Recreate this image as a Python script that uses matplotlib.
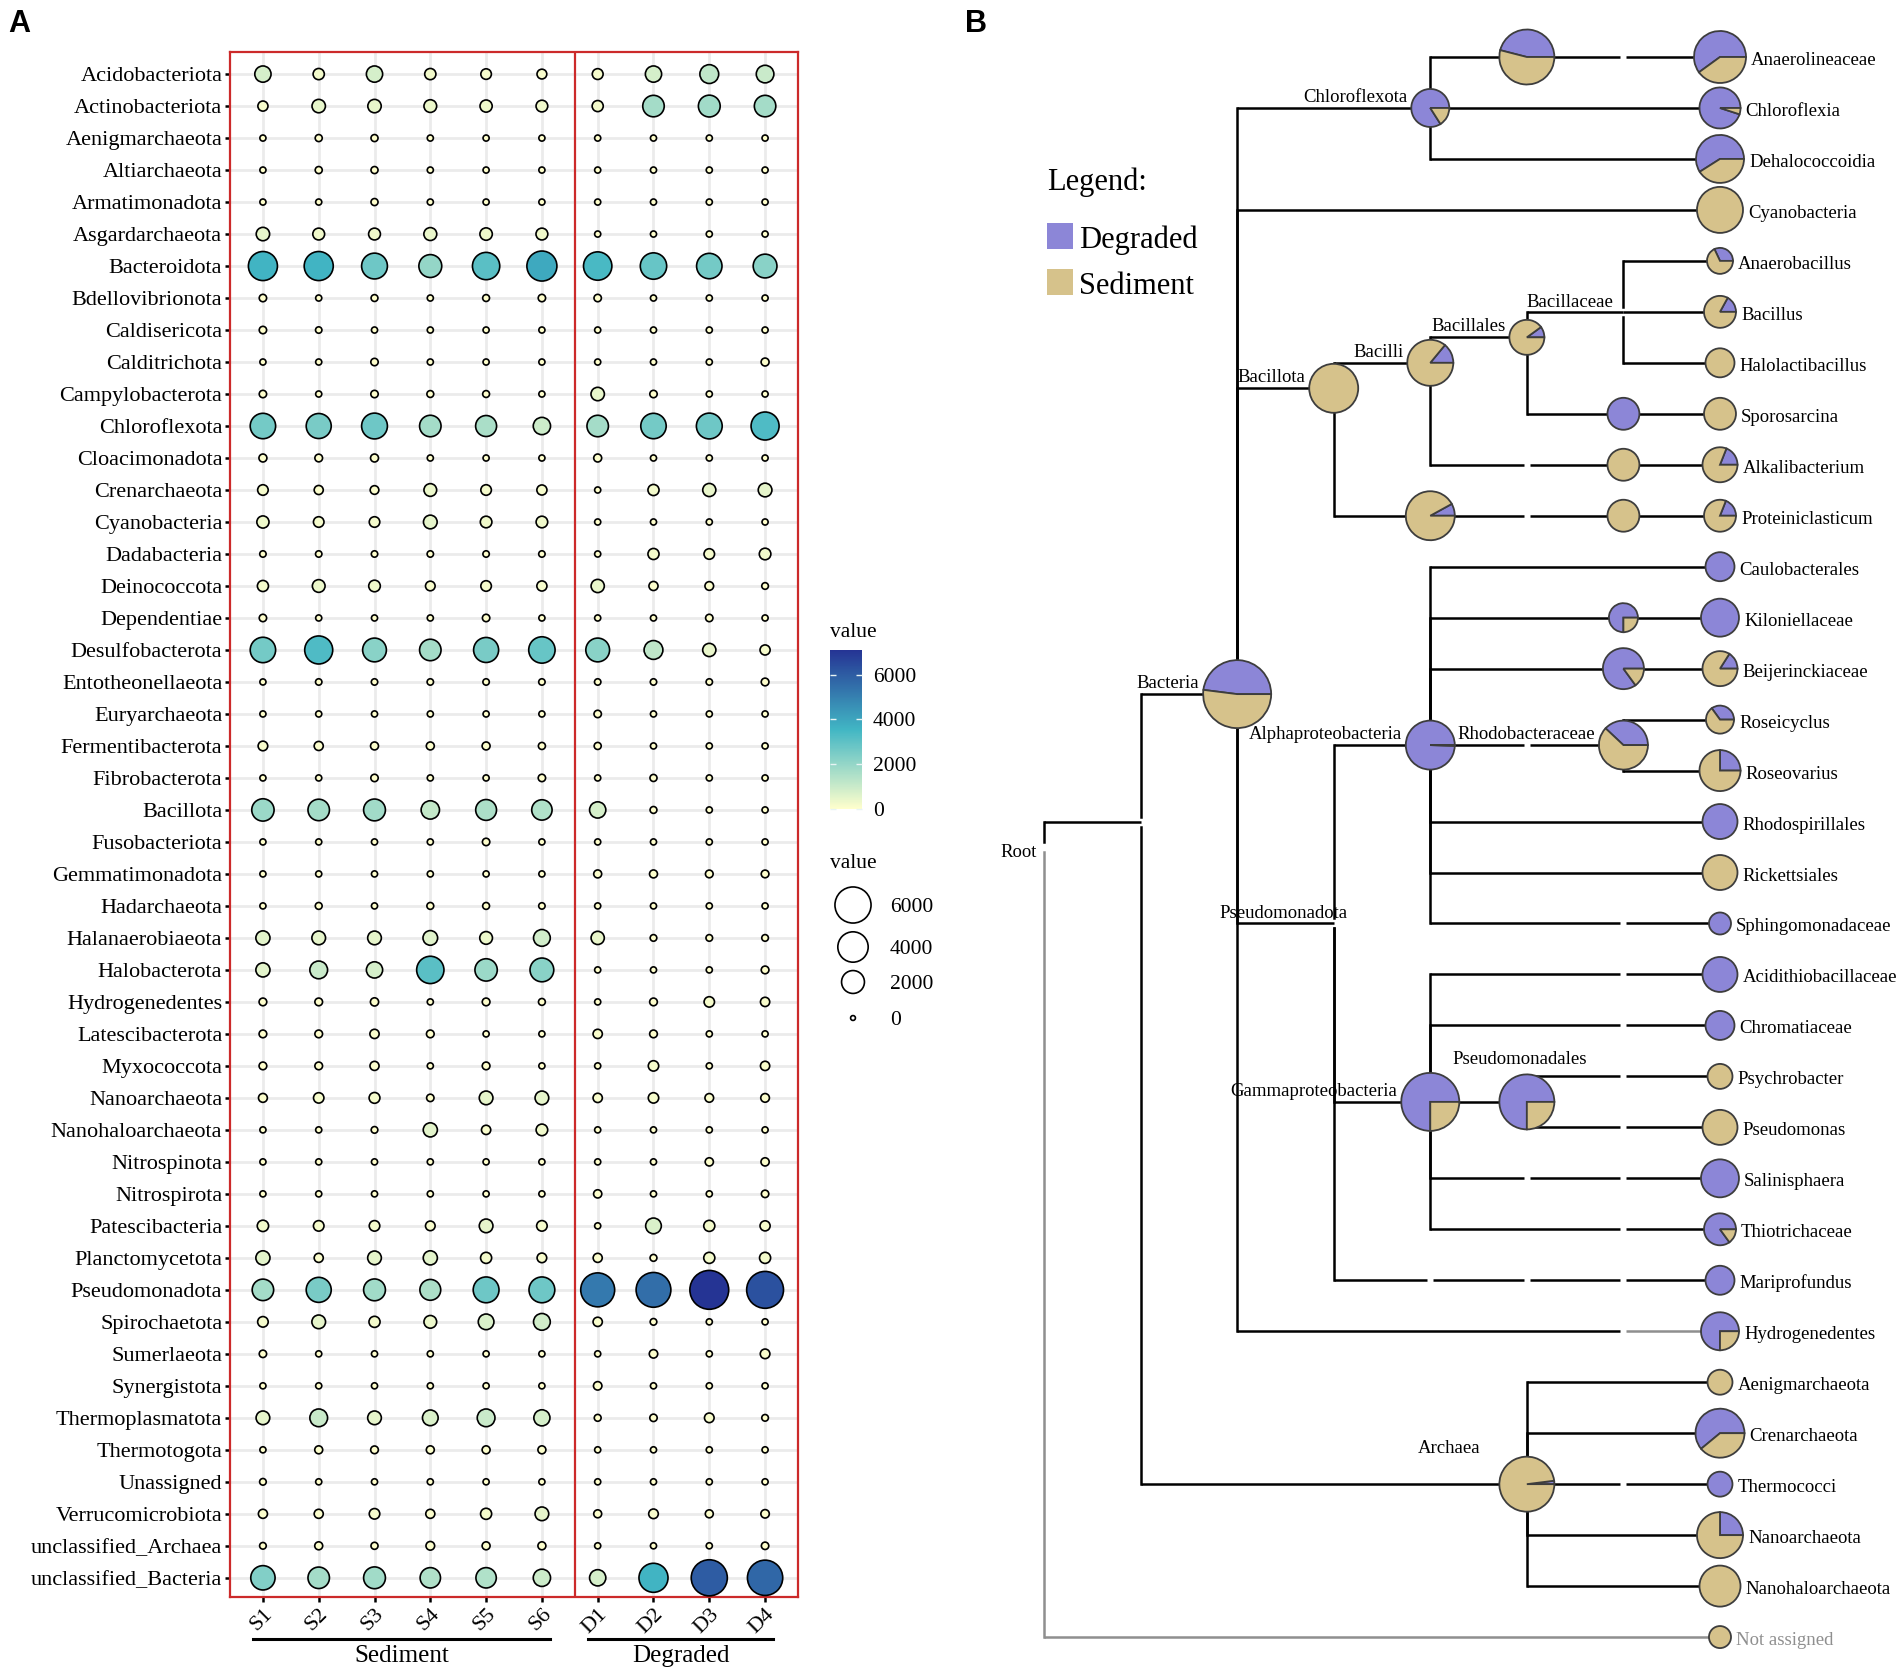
import numpy as np
import matplotlib.pyplot as plt
from matplotlib.colors import LinearSegmentedColormap, Normalize
from matplotlib.cm import ScalarMappable
from matplotlib.patches import Wedge, Circle, Rectangle
from matplotlib.transforms import Affine2D, ScaledTranslation, blended_transform_factory

plt.rcParams['font.family'] = ['Liberation Serif', 'DejaVu Serif']

W, H = 1902, 1672
PX = 0.72  # points per pixel at dpi 100

# ---------------- panel A data ----------------
phyla = ['Acidobacteriota', 'Actinobacteriota', 'Aenigmarchaeota', 'Altiarchaeota',
         'Armatimonadota', 'Asgardarchaeota', 'Bacteroidota', 'Bdellovibrionota',
         'Caldisericota', 'Calditrichota', 'Campylobacterota', 'Chloroflexota',
         'Cloacimonadota', 'Crenarchaeota', 'Cyanobacteria', 'Dadabacteria',
         'Deinococcota', 'Dependentiae', 'Desulfobacterota', 'Entotheonellaeota',
         'Euryarchaeota', 'Fermentibacterota', 'Fibrobacterota', 'Bacillota',
         'Fusobacteriota', 'Gemmatimonadota', 'Hadarchaeota', 'Halanaerobiaeota',
         'Halobacterota', 'Hydrogenedentes', 'Latescibacterota', 'Myxococcota',
         'Nanoarchaeota', 'Nanohaloarchaeota', 'Nitrospinota', 'Nitrospirota',
         'Patescibacteria', 'Planctomycetota', 'Pseudomonadota', 'Spirochaetota',
         'Sumerlaeota', 'Synergistota', 'Thermoplasmatota', 'Thermotogota',
         'Unassigned', 'Verrucomicrobiota', 'unclassified_Archaea', 'unclassified_Bacteria']
samples = ['S1', 'S2', 'S3', 'S4', 'S5', 'S6', 'D1', 'D2', 'D3', 'D4']

S1 = [800, 170, 10, 10, 10, 450, 3600, 40, 40, 10, 40, 2600, 60, 200, 330, 15, 240, 40, 2600, 10,
      10, 140, 10, 1880, 10, 10, 10, 530, 530, 50, 50, 50, 100, 10, 10, 10, 260, 530, 1700, 200,
      40, 10, 480, 10, 20, 110, 20, 2330]
S2 = [250, 450, 30, 30, 10, 300, 3600, 10, 15, 10, 10, 2500, 50, 110, 200, 15, 380, 10, 3300, 15,
      10, 110, 10, 1700, 10, 10, 25, 480, 1020, 50, 50, 50, 190, 10, 10, 10, 200, 110, 2500, 480,
      10, 10, 1020, 60, 10, 110, 60, 1700]
S3 = [800, 450, 30, 30, 30, 300, 2700, 25, 10, 40, 40, 2700, 60, 90, 200, 15, 280, 10, 2200, 15,
      10, 60, 40, 1770, 10, 10, 10, 480, 800, 70, 120, 110, 220, 20, 10, 10, 200, 480, 1770, 240,
      10, 10, 480, 50, 10, 200, 30, 1770]
S4 = [250, 380, 10, 10, 10, 400, 2000, 10, 10, 10, 25, 1700, 10, 380, 480, 15, 140, 10, 1700, 15,
      10, 60, 10, 1120, 10, 10, 25, 590, 3100, 10, 50, 10, 40, 530, 10, 10, 140, 530, 1570, 380,
      10, 10, 720, 60, 10, 110, 90, 1480]
S5 = [200, 330, 10, 10, 10, 350, 3100, 25, 10, 10, 25, 1600, 10, 200, 280, 15, 200, 40, 2500, 15,
      10, 60, 10, 1570, 40, 10, 25, 380, 1880, 50, 10, 50, 480, 120, 10, 10, 480, 240, 2700, 720,
      10, 10, 1020, 60, 10, 240, 60, 1480]
S6 = [150, 290, 10, 10, 10, 300, 3900, 40, 10, 10, 10, 950, 10, 170, 280, 15, 170, 10, 2850, 15,
      10, 30, 40, 1480, 10, 10, 15, 870, 2200, 25, 10, 10, 480, 280, 10, 10, 200, 140, 2700, 870,
      10, 10, 780, 60, 10, 480, 60, 950]
D1 = [220, 240, 10, 10, 10, 10, 3400, 40, 10, 10, 450, 1700, 60, 10, 10, 10, 430, 10, 2200, 15,
      40, 30, 10, 800, 10, 60, 10, 430, 10, 10, 120, 10, 120, 10, 10, 70, 10, 110, 5200, 120,
      10, 80, 25, 10, 10, 60, 10, 800]
D2 = [800, 1700, 10, 10, 10, 10, 2850, 10, 10, 10, 40, 2600, 10, 240, 10, 240, 110, 10, 1200, 15,
      10, 10, 30, 25, 10, 60, 10, 20, 10, 50, 50, 190, 190, 10, 10, 10, 720, 25, 5500, 20,
      80, 10, 40, 10, 10, 140, 10, 3600]
D3 = [1200, 1770, 10, 10, 10, 10, 2600, 10, 10, 10, 10, 2700, 10, 420, 10, 200, 90, 40, 430, 15,
      10, 10, 10, 10, 10, 50, 10, 20, 10, 190, 10, 10, 90, 10, 70, 10, 240, 240, 7100, 10,
      10, 10, 140, 10, 10, 60, 10, 6000]
D4 = [1000, 1700, 10, 10, 10, 10, 2200, 10, 10, 60, 10, 3300, 10, 480, 10, 280, 20, 10, 170, 50,
      10, 10, 10, 10, 10, 50, 10, 20, 50, 120, 10, 120, 90, 10, 70, 40, 170, 240, 6300, 10,
      140, 10, 20, 10, 10, 80, 40, 5700]

group_names = ['Sediment', 'Degraded']
group_members = [samples[:6], samples[6:]]

# ---------------- panel B data (MEGAN style tree) ----------------
tree_names = ['Root', '', 'Bacteria', 'Chloroflexota', '', 'Anaerolineaceae', 'Chloroflexia',
              'Dehalococcoidia', 'Cyanobacteria', 'Bacillota', 'Bacilli', 'Bacillales',
              'Bacillaceae', 'Anaerobacillus', 'Bacillus', 'Halolactibacillus', '', 'Sporosarcina',
              '', 'Alkalibacterium', '', '', 'Proteiniclasticum', 'Pseudomonadota',
              'Alphaproteobacteria', 'Caulobacterales', '', 'Kiloniellaceae', '', 'Beijerinckiaceae',
              'Rhodobacteraceae', 'Roseicyclus', 'Roseovarius', 'Rhodospirillales', 'Rickettsiales',
              'Sphingomonadaceae', 'Gammaproteobacteria', 'Acidithiobacillaceae', 'Chromatiaceae',
              'Pseudomonadales', 'Psychrobacter', 'Pseudomonas', 'Salinisphaera', 'Thiotrichaceae',
              'Mariprofundus', 'Hydrogenedentes', 'Archaea', 'Aenigmarchaeota', 'Crenarchaeota',
              'Thermococci', 'Nanoarchaeota', 'Nanohaloarchaeota', 'Not assigned']
tree_parent = [-1, 0, 1, 2, 3, 4, 3, 3, 2, 2, 9, 10, 11, 12, 12, 12, 11, 16, 10, 18, 9, 20, 21,
               2, 23, 24, 24, 26, 24, 28, 24, 30, 30, 24, 24, 24, 23, 36, 36, 36, 39, 39, 36, 36,
               23, 2, 1, 46, 46, 46, 46, 46, 0]
tree_depth = [0, 1, 2, 4, 5, 7, 7, 7, 7, 3, 4, 5, 6, 7, 7, 7, 6, 7, 6, 7, 4, 6, 7,
              3, 4, 7, 6, 7, 6, 7, 6, 7, 7, 7, 7, 7, 4, 7, 7, 5, 7, 7, 7, 7,
              7, 7, 5, 7, 7, 7, 7, 7, 7]
tree_reads = [0, 0, 10000, 3120, 6540, 5850, 3640, 4980, 4580, 5190, 4580, 2650, 0, 1460, 2210,
              1820, 2210, 2210, 2210, 2650, 5190, 2210, 2210, 0, 5190, 1820, 1820, 3120, 3640, 2650,
              5190, 1700, 3640, 2650, 2650, 1050, 7280, 2650, 1820, 6540, 1350, 2650, 3120, 2210,
              1820, 3120, 6540, 1350, 5190, 1350, 4580, 3640, 1050]
tree_degraded = [0, 0, 0.48, 0.84, 0.46, 0.60, 0.95, 0.59, 0.0, 0.0, 0.14, 0.10, 0, 0.32, 0.17,
                 0.0, 1.0, 0.0, 0.0, 0.19, 0.08, 0.0, 0.19, 0, 0.995, 1.0, 0.75, 1.0, 0.85, 0.16,
                 0.38, 0.35, 0.25, 1.0, 0.0, 1.0, 0.75, 1.0, 1.0, 0.75, 0.0, 0.0, 1.0, 0.85,
                 1.0, 0.75, 0.02, 0.0, 0.61, 1.0, 0.25, 0.0, 0.0]
# breaks drawn in edges at skipped levels, and grey parts
edge_gaps = {5: [6], 18: [5], 21: [5], 30: [5], 35: [6], 37: [6], 38: [6], 40: [6], 41: [6],
             42: [5, 6], 43: [6], 44: [4, 5, 6], 45: [6], 49: [6]}
gray_from = {45: 6, 52: 0}

purple = '#8c86d7'
tan = '#d6c28b'
pie_edge = '#3d3d3d'
red = '#cc2a2a'
grey_line = '#8f8f8f'

fig = plt.figure(figsize=(W / 100, H / 100), dpi=100)
fig.patch.set_facecolor('white')

# ================= Panel A =================
vals = np.column_stack([S1, S2, S3, S4, S5, S6, D1, D2, D3, D4]).astype(float)
vmax = vals.max()
cmap = LinearSegmentedColormap.from_list('ylgnbu3', ['#FFFFCC', '#41B6C4', '#253494'])

def bubble_size(v, lw_pt):
    d_px = 6.5 + 34 * np.sqrt(np.asarray(v, float) / vmax)
    return ((d_px - lw_pt / PX) * PX) ** 2

ax = fig.add_axes([230 / W, 1 - 1597 / H, 568 / W, 1545 / H])
xs = np.arange(1, len(samples) + 1)
ys = np.arange(1, len(phyla) + 1)
X, Y = np.meshgrid(xs, ys)
lw_pt = 1.2
ax.scatter(X.ravel(), Y.ravel(), s=bubble_size(vals.ravel(), lw_pt), c=vals.ravel(),
           cmap=cmap, vmin=0, vmax=vmax, edgecolors='black', linewidths=lw_pt, zorder=3)
ax.set_xlim(0.41, 10.59)
ax.set_ylim(48.6, 0.31)
ax.set_xticks(xs)
ax.set_xticklabels(samples, rotation=45, ha='right', va='top', rotation_mode='anchor')
ax.set_yticks(ys)
ax.set_yticklabels(phyla)
ax.grid(True, color='#ebebeb', lw=2)
ax.set_axisbelow(True)
ax.tick_params(axis='both', length=3.5, width=1.8, color='black', labelsize=16, pad=2)
for sp in ax.spines.values():
    sp.set_color(red)
    sp.set_linewidth(1.6)
ax.axvline(6.59, color=red, lw=1.6, zorder=4)

trans = blended_transform_factory(ax.transData, ax.transAxes)
for name, members in zip(group_names, group_members):
    x0 = samples.index(members[0]) + 1 - 0.17
    x1 = samples.index(members[-1]) + 1 + 0.15
    ax.plot([x0, x1], [-0.0272, -0.0272], transform=trans, clip_on=False, color='black', lw=2.2)
    ax.text((x0 + x1) / 2, -0.0421, name, transform=trans, ha='center', va='baseline', fontsize=18)

# colour bar legend
cax = fig.add_axes([830 / W, 1 - 809 / H, 32 / W, 159 / H])
cb = fig.colorbar(ScalarMappable(norm=Normalize(0, vmax), cmap=cmap), cax=cax,
                  ticks=[0, 2000, 4000, 6000])
cb.outline.set_visible(False)
cax.tick_params(direction='in', color='#e8f4f4', length=4, width=1, labelsize=15.5, pad=8,
                left=True, right=True)

# overlay axes in pixel units for legends and titles
lax = fig.add_axes([0, 0, 1, 1], zorder=-1)
lax.set_xlim(0, W)
lax.set_ylim(H, 0)
lax.axis('off')
lax.text(830, 637, 'value', fontsize=15.5, ha='left', va='baseline')
lax.text(830, 868, 'value', fontsize=15.5, ha='left', va='baseline')
leg_vals = [6000, 4000, 2000, 0]
leg_y = [905, 947, 982, 1018]
lax.scatter([853] * 4, leg_y, s=bubble_size(leg_vals, 1.2), facecolors='white',
            edgecolors='black', linewidths=1.2)
for v, yy in zip(leg_vals, leg_y):
    lax.text(890, yy + 7, str(v), fontsize=15.5, ha='left', va='baseline')

fig.text(8 / W, 1 - 9 / H, 'A', fontsize=22, fontweight='bold', family=['Liberation Sans'],
         ha='left', va='top')
fig.text(965 / W, 1 - 9 / H, 'B', fontsize=22, fontweight='bold', family=['Liberation Sans'],
         ha='left', va='top')

# legend for panel B
lax.text(1047, 190, 'Legend:', fontsize=22, ha='left', va='baseline')
lax.add_patch(Rectangle((1047, 223), 26, 26, facecolor=purple, edgecolor='none'))
lax.add_patch(Rectangle((1047, 269), 26, 26, facecolor=tan, edgecolor='none'))
lax.text(1079, 248, 'Degraded', fontsize=22, ha='left', va='baseline')
lax.text(1079, 294, 'Sediment', fontsize=22, ha='left', va='baseline')

# ================= Panel B =================
n = len(tree_names)
children = [[] for _ in range(n)]
for i, p in enumerate(tree_parent):
    if p >= 0:
        children[p].append(i)

rows = np.zeros(n)
counter = [0]

def layout(i):
    if not children[i]:
        rows[i] = counter[0]
        counter[0] += 1
        return rows[i], rows[i]
    spans = [layout(c) for c in children[i]]
    lo, hi = spans[0][0], spans[-1][1]
    rows[i] = (lo + hi) / 2
    return lo, hi

layout(0)

DXp, DYp = 96.57, 50.97  # pixels per depth level / per leaf row
tax = fig.add_axes([995 / W, 0, 907 / W, 1])
tax.set_xlim(-(1044 - 995) / DXp, (W - 1044) / DXp)
tax.set_ylim((H - 57) / DYp, -57 / DYp)
tax.axis('off')

radius = 0.34 * np.sqrt(np.array(tree_reads, float))
LW = 1.8
hgap = 3.0 / DXp
vgap = 5.0 / DYp

for c in range(n):
    p = tree_parent[c]
    if p < 0:
        continue
    x0, x1 = tree_depth[p], tree_depth[c]
    y = rows[c]
    segs, start = [], x0
    for g in sorted(edge_gaps.get(c, [])):
        segs.append((start, g - hgap))
        start = g + hgap
    segs.append((start, x1))
    gf = gray_from.get(c)
    for a, b in segs:
        col = grey_line if (gf is not None and a >= gf) else 'black'
        tax.plot([a, b], [y, y], color=col, lw=LW, solid_capstyle='butt', zorder=2)

for p in range(n):
    yp = rows[p]
    for c in children[p]:
        yc = rows[c]
        if yc == yp:
            continue
        gf = gray_from.get(c)
        col = grey_line if (gf is not None and gf <= tree_depth[p]) else 'black'
        lo, hi = sorted([yp, yc])
        if tree_reads[p] == 0:
            if yc > yp:
                lo = yp + vgap
            else:
                hi = yp - vgap
        tax.plot([tree_depth[p]] * 2, [lo, hi], color=col, lw=LW, solid_capstyle='projecting',
                 zorder=2)

for i in range(n):
    r = radius[i]
    if r <= 0:
        continue
    t = Affine2D() + ScaledTranslation(tree_depth[i], rows[i], tax.transData)
    f = tree_degraded[i]
    if f <= 0 or f >= 1:
        tax.add_patch(Circle((0, 0), r, transform=t, facecolor=purple if f >= 1 else tan,
                             edgecolor=pie_edge, lw=1.3, zorder=4, clip_on=False))
    else:
        ang = 360 * f
        tax.add_patch(Wedge((0, 0), r, 0, ang, transform=t, facecolor=purple,
                            edgecolor=pie_edge, lw=1.3, zorder=4, clip_on=False))
        tax.add_patch(Wedge((0, 0), r, ang, 360, transform=t, facecolor=tan,
                            edgecolor=pie_edge, lw=1.3, zorder=4, clip_on=False))

for i in range(n):
    name = tree_names[i]
    if not name:
        continue
    r = radius[i]
    xy = (tree_depth[i], rows[i])
    kw = dict(xycoords='data', textcoords='offset points', fontsize=13.5, va='baseline',
              annotation_clip=False, zorder=5)
    if not children[i]:
        col = grey_line if name == 'Not assigned' else 'black'
        tax.annotate(name, xy, xytext=((r + 5) * PX, -8 * PX), ha='left', color=col, **kw)
    elif name == 'Root':
        tax.annotate(name, xy, xytext=(-7 * PX, -10 * PX), ha='right', **kw)
    elif name == 'Pseudomonadales':
        tax.annotate(name, xy, xytext=(-7 * PX, (r + 10) * PX), ha='center', **kw)
    elif name == 'Archaea':
        tax.annotate(name, xy, xytext=(-(r + 19) * PX, 31 * PX), ha='right', **kw)
    elif r == 0:
        shift = 14 if name == 'Pseudomonadota' else -10
        tax.annotate(name, xy, xytext=(shift * PX, 5 * PX), ha='right', **kw)
    else:
        tax.annotate(name, xy, xytext=(-(r + 4) * PX, 6 * PX), ha='right', **kw)

fig.savefig('out.png', dpi=100, facecolor='white')
